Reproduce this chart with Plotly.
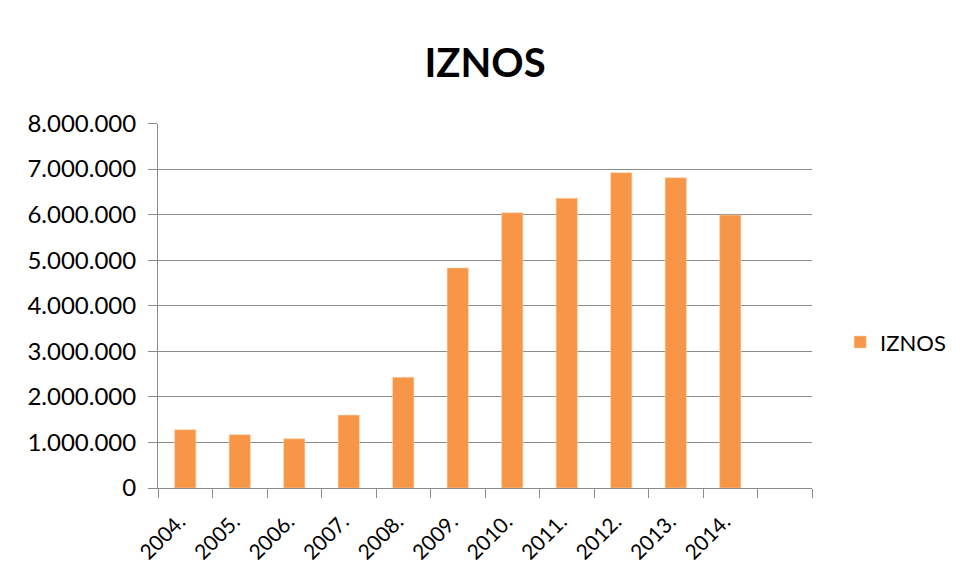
import plotly.graph_objects as go

categories = ["2004.", "2005.", "2006.", "2007.", "2008.", "2009.",
              "2010.", "2011.", "2012.", "2013.", "2014.", " "]
iznos = [1280000, 1170000, 1080000, 1600000, 2430000, 4830000,
         6040000, 6360000, 6920000, 6810000, 5990000, None]
y_ticks = [0, 1000000, 2000000, 3000000, 4000000, 5000000, 6000000, 7000000, 8000000]

FONT = "Lato, 'Open Sans', sans-serif"
GRID = "#8c8c8c"
FRAME = "#8a8a8a"

# the page body adds an 8px offset; layout below is in figure pixels
W, H = 956, 581
L, T, PW, PH = 150, 115.5, 654, 364.5

fig = go.Figure()
fig.add_trace(go.Bar(
    x=categories, y=iznos, name="IZNOS",
    marker=dict(color="#F79646", line=dict(color="#FAD3B0", width=0.6)),
    width=0.39,
))

fig.update_layout(
    width=W, height=H,
    margin=dict(l=0, r=0, t=0, b=0, pad=0),
    paper_bgcolor="white", plot_bgcolor="white",
    separators=",.",
    font=dict(family=FONT, color="#000000", size=20),
    title=dict(text="<b>IZNOS</b>", x=(L + PW / 2) / W, xref="paper", xanchor="center",
               y=1 - 54.5 / H, yref="container", yanchor="middle",
               font=dict(family=FONT, size=40, color="#000000")),
    showlegend=True,
    legend=dict(x=(L + 1.043 * PW) / W, xanchor="left",
                y=1 - (T + 0.60 * PH) / H, yanchor="middle",
                font=dict(family=FONT, size=22, color="#000000"),
                bgcolor="rgba(0,0,0,0)"),
    bargap=0.61,
    xaxis=dict(
        domain=[L / W, (L + PW) / W],
        type="category", categoryorder="array", categoryarray=categories,
        range=[-0.5, len(categories) - 0.5],
        showline=True, linecolor=GRID, linewidth=1,
        ticks="outside", tickson="boundaries", ticklen=9, tickcolor=GRID, tickwidth=1,
        tickangle=-45, tickfont=dict(family=FONT, size=21, color="#000000"),
        ticklabelstandoff=12, ticklabelshift=-6,
        showgrid=False, fixedrange=True, automargin=False,
    ),
    yaxis=dict(
        domain=[1 - (T + PH) / H, 1 - T / H],
        range=[0, 8000000], tickvals=y_ticks, tickformat=",d",
        showline=True, linecolor=GRID, linewidth=1,
        ticks="outside", ticklen=9, tickcolor=GRID, tickwidth=1,
        showgrid=True, gridcolor=GRID, gridwidth=1,
        zeroline=False,
        tickfont=dict(family=FONT, size=24, color="#000000"),
        ticklabelstandoff=7,
        fixedrange=True, automargin=False,
    ),
    # empty full-page axes whose lines form the chart's outer frame (top and left)
    xaxis2=dict(domain=[1 / W, 1], anchor="y2", side="top", range=[0, 1],
                showline=True, linecolor=FRAME, linewidth=2,
                showticklabels=False, ticks="", showgrid=False, zeroline=False,
                fixedrange=True),
    yaxis2=dict(domain=[0, 1 - 3 / H], anchor="x2", side="left", range=[0, 1],
                showline=True, linecolor=FRAME, linewidth=2,
                showticklabels=False, ticks="", showgrid=False, zeroline=False,
                fixedrange=True),
)

fig.write_html("out.html")
